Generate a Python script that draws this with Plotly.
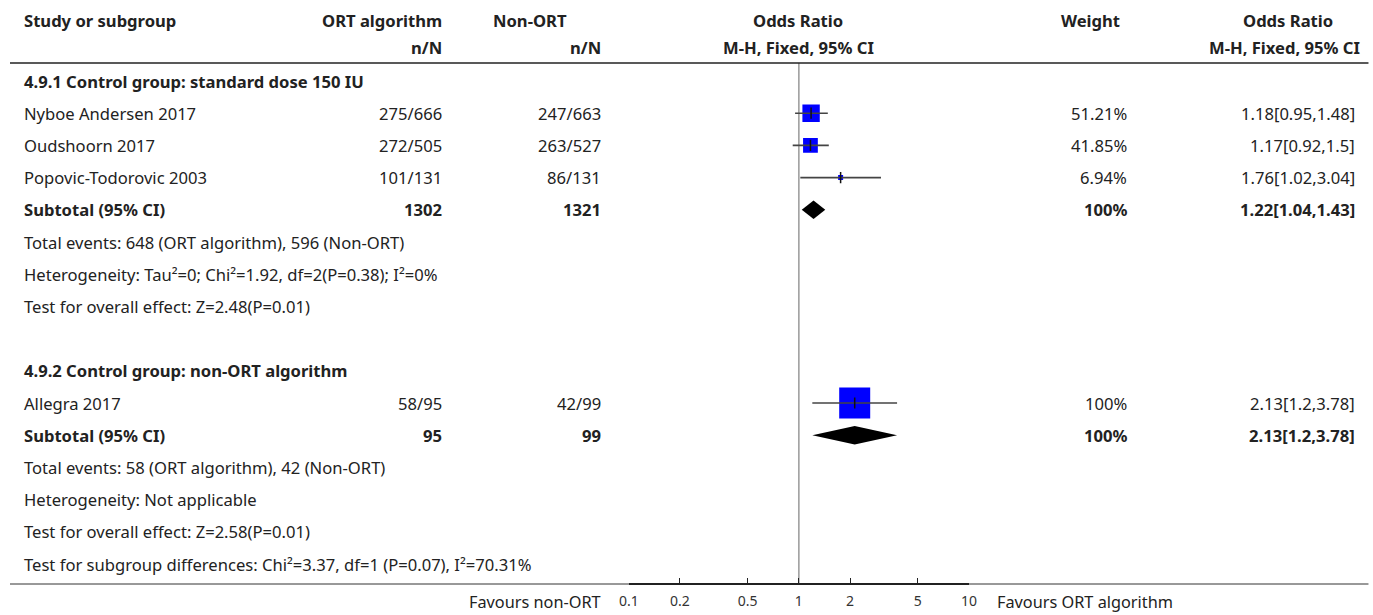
import plotly.graph_objects as go

# ---------------- data ----------------
col_headers_top = ["Study or subgroup", "ORT algorithm", "Non-ORT", "Odds Ratio", "Weight", "Odds Ratio"]
col_headers_sub = ["n/N", "n/N", "M-H, Fixed, 95% CI", "M-H, Fixed, 95% CI"]

sub1_title = "4.9.1 Control group: standard dose 150 IU"
studies1 = ["Nyboe Andersen 2017", "Oudshoorn 2017", "Popovic-Todorovic 2003"]
ort_events1 = [275, 272, 101]
ort_total1 = [666, 505, 131]
non_events1 = [247, 263, 86]
non_total1 = [663, 527, 131]
or1 = [1.18, 1.17, 1.76]
lo1 = [0.95, 0.92, 1.02]
hi1 = [1.48, 1.5, 3.04]
weight1 = [51.21, 41.85, 6.94]
sub1_totals = [1302, 1321]
sub1_or = [1.22, 1.04, 1.43]
sub1_notes = ["Total events: 648 (ORT algorithm), 596 (Non-ORT)",
              "Heterogeneity: Tau²=0; Chi²=1.92, df=2(P=0.38); I²=0%",
              "Test for overall effect: Z=2.48(P=0.01)"]

sub2_title = "4.9.2 Control group: non-ORT algorithm"
studies2 = ["Allegra 2017"]
ort_events2 = [58]
ort_total2 = [95]
non_events2 = [42]
non_total2 = [99]
or2 = [2.13]
lo2 = [1.2]
hi2 = [3.78]
weight2 = [100]
sub2_totals = [95, 99]
sub2_or = [2.13, 1.2, 3.78]
sub2_notes = ["Total events: 58 (ORT algorithm), 42 (Non-ORT)",
              "Heterogeneity: Not applicable",
              "Test for overall effect: Z=2.58(P=0.01)"]

overall_note = "Test for subgroup differences: Chi²=3.37, df=1 (P=0.07), I²=70.31%"

tick_vals = [0.1, 0.2, 0.5, 1, 2, 5, 10]
tick_text = ["0.1", "0.2", "0.5", "1", "2", "5", "10"]
favours_left = "Favours non-ORT"
favours_right = "Favours ORT algorithm"

# ---------------- layout geometry ----------------
W, H = 1373, 615
ROW0_PX, ROW_STEP = 81.0, 32.2
# horizontal calibration of the rendered page (measured)
X_OFF, X_SCALE = 8.0, 0.988


def px_to_row(p):
    return (p - ROW0_PX) / ROW_STEP


def px(xp):
    return (xp - X_OFF) / X_SCALE / W


FONT = "Noto Sans, sans-serif"
TXT = "#222222"
FS = 16.6

X_STUDY = px(22)
X_ORT = px(440)
X_NON = px(600)
X_WT = px(1126)
X_OR = px(1355)

annotations = []


def add_text(x, row, text, anchor="left", bold=False, size=FS, color=TXT):
    annotations.append(dict(
        x=x, y=row, xref="paper", yref="y", text=("<b>%s</b>" % text) if bold else text,
        showarrow=False, xanchor=anchor, yanchor="middle", borderpad=0, borderwidth=0,
        font=dict(family=FONT, size=size, color=color)))


def fmt(v):
    return "%g" % v


# headers
r_h1 = px_to_row(20)
r_h2 = px_to_row(47)
add_text(X_STUDY, r_h1, col_headers_top[0], bold=True)
add_text(X_ORT, r_h1, col_headers_top[1], anchor="right", bold=True)
add_text(px(529), r_h1, col_headers_top[2], anchor="center", bold=True)
add_text(px(797), r_h1, col_headers_top[3], anchor="center", bold=True)
add_text(px(1090), r_h1, col_headers_top[4], anchor="center", bold=True)
add_text(px(1287), r_h1, col_headers_top[5], anchor="center", bold=True)
add_text(X_ORT, r_h2, col_headers_sub[0], anchor="right", bold=True)
add_text(X_NON, r_h2, col_headers_sub[1], anchor="right", bold=True)
add_text(px(797), r_h2, col_headers_sub[2], anchor="center", bold=True)
add_text(px(1284), r_h2, col_headers_sub[3], anchor="center", bold=True)

fig = go.Figure()


def add_subgroup(start_row, title, studies, oe, ot, ne, nt, ors, los, his, wts, totals, sor, notes):
    add_text(X_STUDY, start_row, title, bold=True)
    rows = [start_row + 1 + i for i in range(len(studies))]
    for i, r in enumerate(rows):
        add_text(X_STUDY, r, studies[i])
        add_text(X_ORT, r, "%d/%d" % (oe[i], ot[i]), anchor="right")
        add_text(X_NON, r, "%d/%d" % (ne[i], nt[i]), anchor="right")
        add_text(X_WT, r, "%.2f%%" % wts[i] if wts[i] != 100 else "100%", anchor="right")
        add_text(X_OR, r, "%s[%s,%s]" % (fmt(ors[i]), fmt(los[i]), fmt(his[i])), anchor="right")
    # squares: size grows with study weight
    sizes = [3.06 + 0.2794 * w for w in wts]
    fig.add_trace(go.Scatter(x=ors, y=rows, mode="markers", opacity=1,
                             marker=dict(symbol="square", size=sizes, color="#0000FF",
                                         opacity=1, line=dict(width=0)),
                             showlegend=False, hoverinfo="skip"))
    # confidence intervals
    xs, ys = [], []
    for i, r in enumerate(rows):
        xs += [los[i], his[i], None]
        ys += [r, r, None]
    fig.add_trace(go.Scatter(x=xs, y=ys, mode="lines", line=dict(color="#444444", width=1.6),
                             showlegend=False, hoverinfo="skip"))
    # point estimate tick
    fig.add_trace(go.Scatter(x=ors, y=rows, mode="markers",
                             marker=dict(symbol="line-ns", size=8, opacity=1,
                                         line=dict(width=1.5, color="#111111")),
                             showlegend=False, hoverinfo="skip"))
    # subtotal row
    sr = rows[-1] + 1
    add_text(X_STUDY, sr, "Subtotal (95% CI)", bold=True)
    add_text(X_ORT, sr, str(totals[0]), anchor="right", bold=True)
    add_text(X_NON, sr, str(totals[1]), anchor="right", bold=True)
    add_text(X_WT, sr, "100%", anchor="right", bold=True)
    add_text(X_OR, sr, "%s[%s,%s]" % (fmt(sor[0]), fmt(sor[1]), fmt(sor[2])), anchor="right", bold=True)
    hh = 9.2 / ROW_STEP
    fig.add_trace(go.Scatter(x=[sor[1], sor[0], sor[2], sor[0], sor[1]],
                             y=[sr, sr - hh, sr, sr + hh, sr],
                             mode="lines", fill="toself", fillcolor="#000000",
                             line=dict(width=0, color="#000000"),
                             showlegend=False, hoverinfo="skip"))
    for j, n in enumerate(notes):
        add_text(X_STUDY, sr + 1 + j, n)
    return sr + len(notes)


last1 = add_subgroup(0, sub1_title, studies1, ort_events1, ort_total1, non_events1, non_total1,
                     or1, lo1, hi1, weight1, sub1_totals, sub1_or, sub1_notes)
last2 = add_subgroup(last1 + 2, sub2_title, studies2, ort_events2, ort_total2, non_events2, non_total2,
                     or2, lo2, hi2, weight2, sub2_totals, sub2_or, sub2_notes)
add_text(X_STUDY, last2 + 1, overall_note)

# favours labels
r_bot = px_to_row(602)
add_text(px(600), r_bot, favours_left, anchor="right", size=16.3)
add_text(px(996), r_bot, favours_right, anchor="left", size=16.3)

r_hline = px_to_row(63)
r_axis = px_to_row(584)

shapes = [
    dict(type="line", xref="paper", yref="y", x0=max(0, px(7)), x1=px(1368), y0=r_hline, y1=r_hline,
         line=dict(color="#222222", width=1.4)),
    dict(type="line", xref="paper", yref="y", x0=max(0, px(7)), x1=px(1368), y0=r_axis, y1=r_axis,
         line=dict(color="#333333", width=1)),
    dict(type="line", xref="x", yref="y", x0=1, x1=1, y0=r_hline, y1=r_axis,
         line=dict(color="#999999", width=1.5), layer="below"),
]

fig.update_layout(
    width=W, height=H, autosize=False,
    margin=dict(l=0, r=0, t=0, b=0, pad=0),
    paper_bgcolor="white", plot_bgcolor="white",
    font=dict(family=FONT, size=FS, color=TXT),
    showlegend=False,
    annotations=annotations,
    shapes=shapes,
    xaxis=dict(type="log", range=[-1, 1], domain=[px(627.5), px(968)],
               tickvals=tick_vals, ticktext=tick_text,
               ticks="inside", ticklen=5, tickwidth=1, tickcolor="#222222",
               showline=True, linewidth=2, linecolor="#111111",
               showgrid=False, zeroline=False,
               anchor="free", position=(H - 584) / H,
               ticklabelstandoff=4,
               tickfont=dict(family=FONT, size=14, color="#333333")),
    yaxis=dict(range=[px_to_row(H), px_to_row(0)], domain=[0, 1],
               showgrid=False, zeroline=False, showticklabels=False, showline=False,
               fixedrange=True),
)

fig.write_html("out.html",
               config={"displayModeBar": False, "responsive": False},
               post_script="document.body.style.margin='0';document.body.style.padding='0';"
                           "document.body.style.overflow='hidden';")
